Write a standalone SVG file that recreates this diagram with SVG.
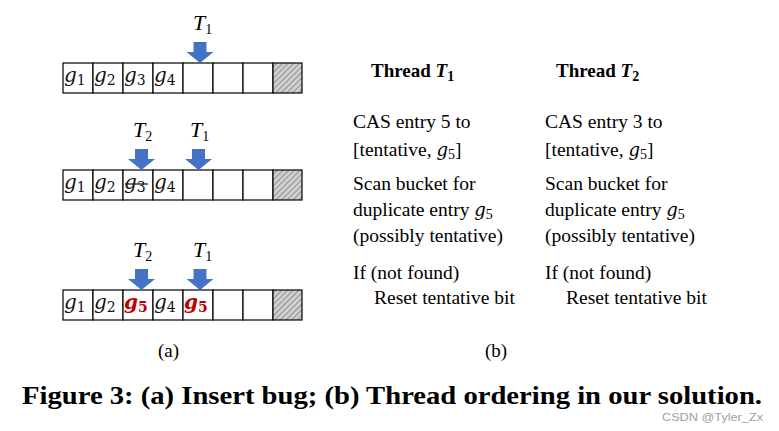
<svg xmlns="http://www.w3.org/2000/svg" width="779" height="431" viewBox="0 0 779 431">
<defs>
<pattern id="hatch" width="4" height="4" patternUnits="userSpaceOnUse" patternTransform="rotate(45)">
<rect width="4" height="4" fill="#d0d0d0"/>
<line x1="0" y1="0" x2="0" y2="4" stroke="#808080" stroke-width="1.6"/>
</pattern>
<path id="arr" d="M-6.5,0 H6.5 V10 H13.5 L0,21 L-13.5,10 H-6.5 Z" fill="#4472C4"/>
</defs>
<style>
.cell{fill:#fff;stroke:#000;stroke-width:1.2}
.hat{fill:url(#hatch);stroke:#000;stroke-width:1.2}
.g{font-family:"DejaVu Serif","Liberation Serif",serif;font-style:italic;font-size:20px;fill:#111}
.sub{font-size:14px;font-style:normal}
.red{fill:#C00000;font-weight:bold}
.T{font-family:"Liberation Serif","DejaVu Serif",serif;font-style:italic;font-size:22px;fill:#000}
.body{font-family:"Liberation Serif","Times New Roman",serif;font-size:19.5px;fill:#000}
.hd{font-family:"Liberation Serif","Times New Roman",serif;font-size:19px;font-weight:bold;fill:#000}
.lab{font-family:"Liberation Serif","Times New Roman",serif;font-size:19px;fill:#000}
.cap{font-family:"Liberation Serif","Times New Roman",serif;font-size:26px;font-weight:bold;fill:#000}
.wm{font-family:"Liberation Sans",Arial,sans-serif;font-size:11.5px;fill:#a0a0a0}
</style>

<g id="row1">
<rect class="cell" x="63" y="63" width="30" height="30"/>
<rect class="cell" x="93" y="63" width="30" height="30"/>
<rect class="cell" x="123" y="63" width="30" height="30"/>
<rect class="cell" x="153" y="63" width="30" height="30"/>
<rect class="cell" x="183" y="63" width="30" height="30"/>
<rect class="cell" x="213" y="63" width="30" height="30"/>
<rect class="cell" x="243" y="63" width="30" height="30"/>
<rect class="hat" x="273" y="63" width="29" height="30"/>
<text class="g" x="64" y="82">g<tspan class="sub" dy="3">1</tspan></text>
<text class="g" x="94" y="82">g<tspan class="sub" dy="3">2</tspan></text>
<text class="g" x="124" y="82">g<tspan class="sub" dy="3">3</tspan></text>
<text class="g" x="154" y="82">g<tspan class="sub" dy="3">4</tspan></text>
</g>
<g id="row1-arrows">
<use href="#arr" x="200" y="42"/>
<text class="T" x="193" y="30">T<tspan class="sub" dy="4">1</tspan></text>
</g>

<g id="row2">
<rect class="cell" x="63" y="170" width="30" height="30"/>
<rect class="cell" x="93" y="170" width="30" height="30"/>
<rect class="cell" x="123" y="170" width="30" height="30"/>
<rect class="cell" x="153" y="170" width="30" height="30"/>
<rect class="cell" x="183" y="170" width="30" height="30"/>
<rect class="cell" x="213" y="170" width="30" height="30"/>
<rect class="cell" x="243" y="170" width="30" height="30"/>
<rect class="hat" x="273" y="170" width="29" height="30"/>
<text class="g" x="64" y="189">g<tspan class="sub" dy="3">1</tspan></text>
<text class="g" x="94" y="189">g<tspan class="sub" dy="3">2</tspan></text>
<text class="g" x="124" y="189">g<tspan class="sub" dy="3">3</tspan></text>
<line x1="125" y1="184" x2="148" y2="184" stroke="#111" stroke-width="1.2"/>
<text class="g" x="154" y="189">g<tspan class="sub" dy="3">4</tspan></text>
</g>
<g id="row2-arrows">
<use href="#arr" x="141.5" y="149"/>
<use href="#arr" x="198.5" y="149"/>
<text class="T" x="133" y="137">T<tspan class="sub" dy="4">2</tspan></text>
<text class="T" x="190" y="137">T<tspan class="sub" dy="4">1</tspan></text>
</g>

<g id="row3">
<rect class="cell" x="63" y="290" width="30" height="30"/>
<rect class="cell" x="93" y="290" width="30" height="30"/>
<rect class="cell" x="123" y="290" width="30" height="30"/>
<rect class="cell" x="153" y="290" width="30" height="30"/>
<rect class="cell" x="183" y="290" width="30" height="30"/>
<rect class="cell" x="213" y="290" width="30" height="30"/>
<rect class="cell" x="243" y="290" width="30" height="30"/>
<rect class="hat" x="273" y="290" width="29" height="30"/>
<text class="g" x="64" y="309">g<tspan class="sub" dy="3">1</tspan></text>
<text class="g" x="94" y="309">g<tspan class="sub" dy="3">2</tspan></text>
<text class="g red" x="124" y="309">g<tspan class="sub" dy="3">5</tspan></text>
<text class="g" x="154" y="309">g<tspan class="sub" dy="3">4</tspan></text>
<text class="g red" x="184" y="309">g<tspan class="sub" dy="3">5</tspan></text>
</g>
<g id="row3-arrows">
<use href="#arr" x="141.5" y="269"/>
<use href="#arr" x="200" y="269"/>
<text class="T" x="133" y="257">T<tspan class="sub" dy="4">2</tspan></text>
<text class="T" x="193" y="257">T<tspan class="sub" dy="4">1</tspan></text>
</g>

<g id="thread1">
<text class="hd" x="371" y="77">Thread <tspan font-style="italic">T</tspan><tspan font-size="14" dy="4">1</tspan></text>
<text class="body" x="353" y="128">CAS entry 5 to</text>
<text class="body" x="353" y="156">[tentative, <tspan font-family="DejaVu Serif" font-size="18" font-style="italic">g</tspan><tspan font-size="14" dy="3">5</tspan><tspan dy="-3">]</tspan></text>
<text class="body" x="353" y="190">Scan bucket for</text>
<text class="body" x="353" y="216">duplicate entry <tspan font-family="DejaVu Serif" font-size="18" font-style="italic">g</tspan><tspan font-size="14" dy="3">5</tspan></text>
<text class="body" x="353" y="242">(possibly tentative)</text>
<text class="body" x="353" y="279">If (not found)</text>
<text class="body" x="374" y="304">Reset tentative bit</text>
</g>
<g id="thread2">
<text class="hd" x="556" y="77">Thread <tspan font-style="italic">T</tspan><tspan font-size="14" dy="4">2</tspan></text>
<text class="body" x="545" y="128">CAS entry 3 to</text>
<text class="body" x="545" y="156">[tentative, <tspan font-family="DejaVu Serif" font-size="18" font-style="italic">g</tspan><tspan font-size="14" dy="3">5</tspan><tspan dy="-3">]</tspan></text>
<text class="body" x="545" y="190">Scan bucket for</text>
<text class="body" x="545" y="216">duplicate entry <tspan font-family="DejaVu Serif" font-size="18" font-style="italic">g</tspan><tspan font-size="14" dy="3">5</tspan></text>
<text class="body" x="545" y="242">(possibly tentative)</text>
<text class="body" x="545" y="279">If (not found)</text>
<text class="body" x="566" y="304">Reset tentative bit</text>
</g>

<g id="labels">
<text class="lab" x="158" y="357">(a)</text>
<text class="lab" x="485" y="357">(b)</text>
<text class="cap" x="22" y="404" textLength="740" lengthAdjust="spacingAndGlyphs">Figure 3: (a) Insert bug; (b) Thread ordering in our solution.</text>
<text class="wm" x="662" y="421" textLength="101" lengthAdjust="spacingAndGlyphs">CSDN @Tyler_Zx</text>
</g>
</svg>
